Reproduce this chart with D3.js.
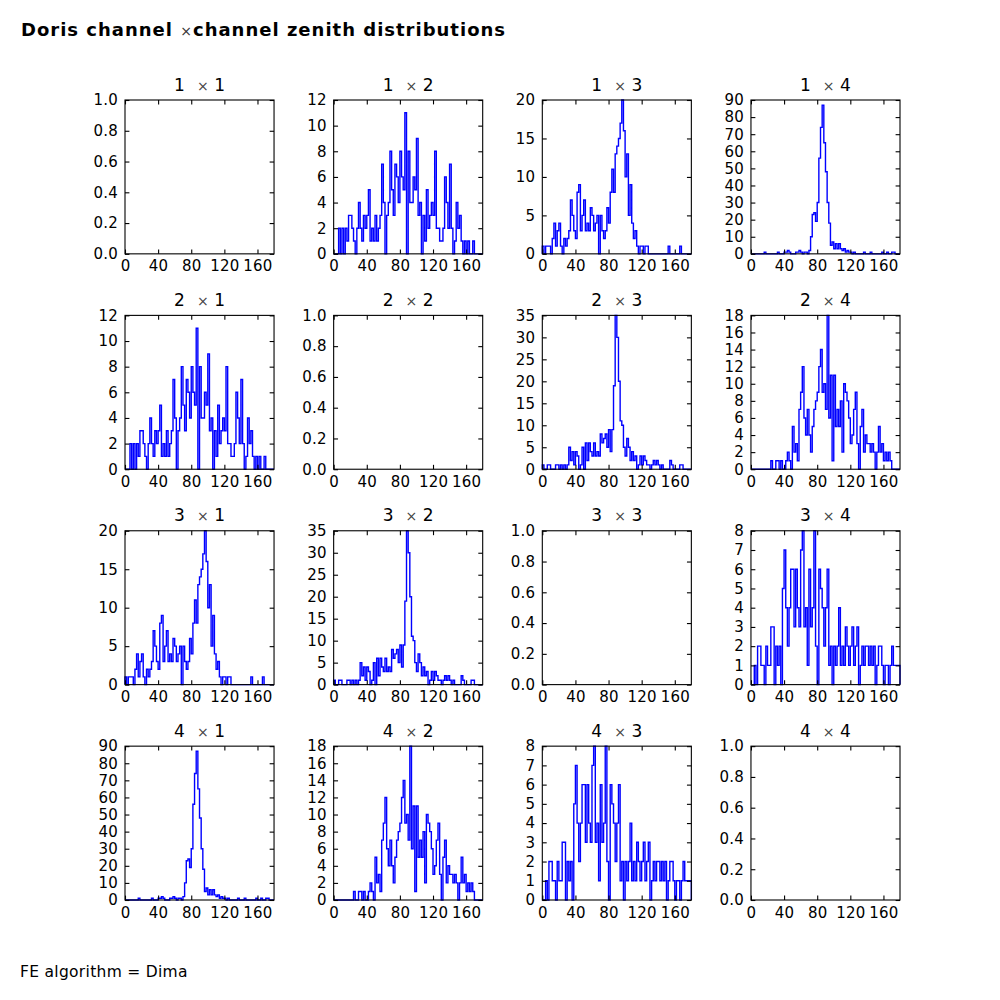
<!DOCTYPE html>
<html>
<head>
<meta charset="utf-8">
<script src="https://cdn.jsdelivr.net/npm/d3@7"></script>
<style>
  body { margin: 0; background: #fff; }
  svg { display: block; font-family: "DejaVu Sans", sans-serif; }
</style>
</head>
<body>
<div id="chart"></div>
<script>
// zenith histograms, 2 degree bins from 0 to 180, one array per channel pair
const CHANNELS = [1, 2, 3, 4];
const X_TICKS = [0, 40, 80, 120, 160];
const BIN_WIDTH = 2;

const h12 = [0,0,0,2,0,2,0,2,1,3, 3,2,1,0,2,4,2,1,3,2, 3,5,1,2,1,3,1,2,3,7,
    4,0,3,4,8,5,3,7,6,4, 8,6,5,11,0,8,4,4,6,5, 9,3,4,0,3,1,5,2,3,4,
    3,8,2,2,1,1,2,6,4,2, 7,2,0,1,4,2,3,1,0,1, 0,1,0,0,1,0,0,0,0,0];
const h13 = [1,0,1,1,1,0,2,4,1,3, 4,1,0,2,1,2,3,7,5,3, 2,8,9,3,5,7,3,4,3,6,
    5,3,4,5,0,5,3,2,3,6, 4,8,11,8,13,14,15,17,20,16, 10,13,5,9,4,2,3,1,0,1,
    1,0,1,1,0,0,0,0,0,0, 0,0,0,0,0,0,1,0,0,0, 0,0,0,1,0,0,0,0,0,0];
const h14 = [0,0,0,0,0,0,0,0,1,0, 0,0,0,0,0,0,1,0,0,0, 1,1,2,1,0,0,0,1,1,2,
    1,0,1,1,0,2,10,23,24,19, 30,56,74,87,65,48,30,18,5,7, 3,6,3,6,3,2,3,1,2,1,
    1,0,1,0,0,0,0,0,1,0, 0,0,1,0,0,0,0,0,0,1, 0,0,1,0,0,1,1,0,0,0];
const h23 = [1,0,0,1,1,0,0,0,1,1, 0,1,0,1,0,1,5,2,4,1, 4,3,0,1,5,0,6,2,6,4,
    3,6,3,4,3,8,6,7,8,5, 9,4,9,19,35,30,20,11,10,5, 3,7,5,2,4,2,3,0,1,3,
    1,3,2,1,1,0,1,2,1,2, 1,0,1,0,0,0,0,2,1,0, 0,0,0,1,1,0,0,0,0,0];
const h24 = [0,0,0,0,0,0,0,0,0,0, 0,0,1,0,0,1,1,0,1,0, 0,1,2,1,0,5,2,3,1,7,
    9,12,6,4,7,4,2,5,7,8, 9,12,14,9,10,7,18,6,11,1, 11,5,7,5,8,2,10,9,8,6,
    3,4,7,9,3,0,5,7,2,4, 3,3,2,3,2,0,2,5,2,3, 1,2,1,2,1,0,0,0,0,0];
const h34 = [0,0,1,0,2,2,1,1,0,2, 1,1,3,3,0,2,1,2,0,5, 7,4,2,4,6,6,3,6,4,3,
    7,8,3,4,1,6,3,4,8,2, 0,6,5,4,2,4,6,1,2,0, 2,1,2,4,1,2,1,3,2,1,
    2,3,1,2,3,0,1,2,1,2, 2,1,2,1,2,0,1,2,2,1, 0,1,1,0,1,2,1,1,1,1];

const PAIR_KEYS = ['1-2', '1-3', '1-4', '2-3', '2-4', '3-4'];
const PAIR_DATA = [h12, h13, h14, h23, h24, h34];
const Y_MAX = [12, 20, 90, 35, 18, 8];
const Y_STEP = [2, 5, 10, 5, 2, 1];

(function () {
    const W = 1000, H = 1000;
    const mLeft = 125, mTop = 100, plotW = 775, plotH = 800;
    const gapFrac = 0.4;
    const cw = plotW / (4 + 3 * gapFrac), ch = plotH / (4 + 3 * gapFrac);
    const TICK = 4.4;

    const svg = d3.select('#chart').append('svg').attr('width', W).attr('height', H);

    const sup = svg.append('text').attr('x', 21).attr('y', 36)
        .style('font-size', '18px').style('font-weight', 'bold').style('letter-spacing', '1px');
    sup.append('tspan').text('Doris channel ');
    sup.append('tspan').style('font-weight', 'normal').style('font-size', '14px').attr('fill', '#333').text('\u00d7');
    sup.append('tspan').text('channel zenith distributions');

    svg.append('text').attr('x', 20).attr('y', 977).style('font-size', '15.5px').style('letter-spacing', '0.3px')
        .text('FE algorithm = Dima');

    const x = d3.scaleLinear().domain([0, 180]).range([0, cw]);

    CHANNELS.forEach((a, r) => {
        CHANNELS.forEach((b, c) => {
            const gx = mLeft + c * cw * (1 + gapFrac);
            const gy = mTop + r * ch * (1 + gapFrac);
            const g = svg.append('g').attr('transform', `translate(${gx},${gy})`);

            let yMax = 1, yTicks = d3.range(0, 1.0001, 0.2), fmt = d3.format('.1f'), vals = null;
            if (a !== b) {
                const k = PAIR_KEYS.indexOf(`${Math.min(a, b)}-${Math.max(a, b)}`);
                yMax = Y_MAX[k];
                yTicks = d3.range(0, yMax + 0.001, Y_STEP[k]);
                fmt = d3.format('d');
                vals = PAIR_DATA[k];
            }
            const y = d3.scaleLinear().domain([0, yMax]).range([ch, 0]);

            if (vals) {
                const pts = [[0, 0]];
                vals.forEach((v, i) => pts.push([i * BIN_WIDTH, v]));
                pts.push([vals.length * BIN_WIDTH, vals[vals.length - 1]]);
                pts.push([vals.length * BIN_WIDTH, 0]);
                const line = d3.line().x(d => x(d[0])).y(d => y(d[1])).curve(d3.curveStepAfter);
                g.append('path').attr('d', line(pts)).attr('fill', 'none')
                    .attr('stroke', '#0000ff').attr('stroke-width', 1.4);
            }

            // ticks inside on all four sides
            const xAxB = d3.axisBottom(x).tickValues(X_TICKS).tickSizeInner(-TICK).tickSizeOuter(0).tickPadding(7);
            const xAxT = d3.axisTop(x).tickValues(X_TICKS).tickSizeInner(-TICK).tickSizeOuter(0).tickFormat('');
            const yAxL = d3.axisLeft(y).tickValues(yTicks).tickSizeInner(-TICK).tickSizeOuter(0).tickPadding(7).tickFormat(fmt);
            const yAxR = d3.axisRight(y).tickValues(yTicks).tickSizeInner(-TICK).tickSizeOuter(0).tickFormat('');

            [g.append('g').attr('transform', `translate(0,${ch})`).call(xAxB),
             g.append('g').call(xAxT),
             g.append('g').call(yAxL),
             g.append('g').attr('transform', `translate(${cw},0)`).call(yAxR)].forEach(ax => {
                ax.select('.domain').remove();
                ax.selectAll('line').attr('stroke', '#000').attr('stroke-width', 1.1);
                ax.selectAll('text').attr('fill', '#000').style('font-size', '15px').style('letter-spacing', '0.2px')
                    .style('font-family', '"DejaVu Sans", sans-serif');
            });

            g.append('rect').attr('width', cw).attr('height', ch).attr('fill', 'none')
                .attr('stroke', '#000').attr('stroke-width', 1.1);

            const t = g.append('text').attr('x', cw / 2).attr('y', -9.3).attr('text-anchor', 'middle')
                .style('font-size', '17px');
            t.append('tspan').text(`${a}`);
            t.append('tspan').attr('dx', 12).style('font-size', '14px').attr('fill', '#444').text('\u00d7');
            t.append('tspan').attr('dx', 5.5).text(`${b}`);
        });
    });
})();
</script>
</body>
</html>
